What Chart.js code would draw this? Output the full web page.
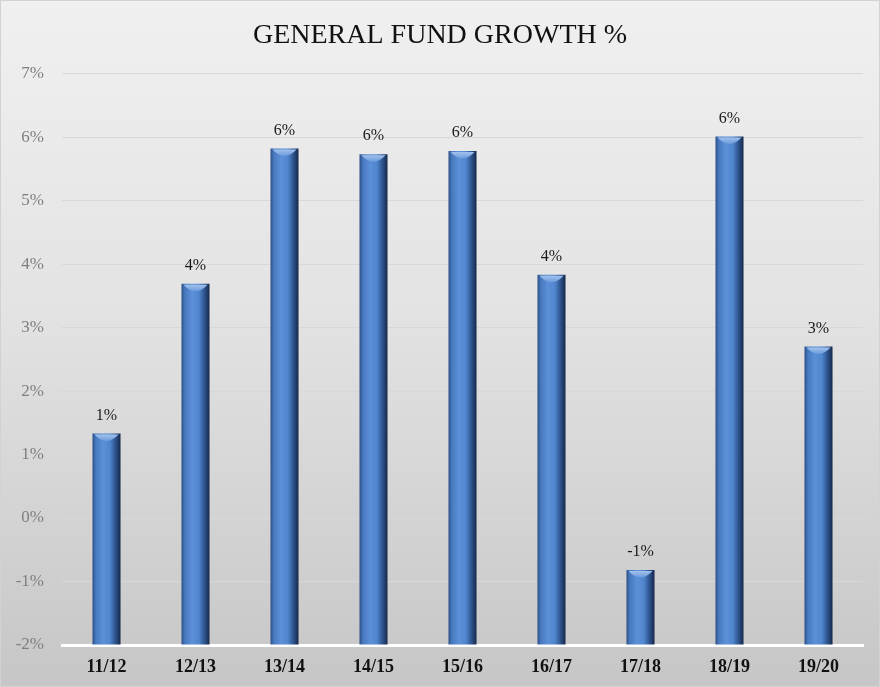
<!DOCTYPE html>
<html>
<head>
<meta charset="utf-8">
<script src="https://cdn.jsdelivr.net/npm/chart.js@4"></script>
<style>
  html, body { margin: 0; padding: 0; }
  #wrap {
    width: 880px; height: 687px; position: relative;
    background: linear-gradient(to bottom, #f0f0f0 0%, #e3e3e3 45%, #c6c6c6 100%);
  }
  #growth { position: absolute; left: 0; top: 0; }
</style>
</head>
<body>
<div id="wrap"><canvas id="growth" width="880" height="687"></canvas></div>
<script>
const years = ['11/12', '12/13', '13/14', '14/15', '15/16', '16/17', '17/18', '18/19', '19/20'];
const growth = [1.33, 3.69, 5.82, 5.73, 5.78, 3.83, -0.82, 6.01, 2.70];
const yTicks = [-2, -1, 0, 1, 2, 3, 4, 5, 6, 7];

const serif = '"Liberation Serif", "Times New Roman", serif';
const BAR_FRACTION = 0.315;

// cylinder shading across each bar
function barFill(c) {
  const chart = c.chart;
  const xs = chart.scales.x;
  if (!chart.chartArea || !xs || c.dataIndex === undefined) return '#4f81bd';
  const cx = xs.getPixelForValue(c.dataIndex);
  const w = (xs.width / years.length) * BAR_FRACTION;
  const g = chart.ctx.createLinearGradient(cx - w / 2, 0, cx + w / 2, 0);
  g.addColorStop(0, '#2c4f86');
  g.addColorStop(0.12, '#4879bf');
  g.addColorStop(0.38, '#5c90d8');
  g.addColorStop(0.62, '#5086ce');
  g.addColorStop(0.82, '#2d538d');
  g.addColorStop(1, '#16284a');
  return g;
}

// light cap on top of each bar plus the value label
const barDecor = {
  id: 'barDecor',
  afterDatasetsDraw(chart) {
    const ctx = chart.ctx;
    const meta = chart.getDatasetMeta(0);
    meta.data.forEach((bar, i) => {
      const w = bar.width;
      ctx.save();
      const g = ctx.createLinearGradient(0, bar.y, 0, bar.y + 9);
      g.addColorStop(0, '#a9c7ef');
      g.addColorStop(1, '#5f92d8');
      ctx.fillStyle = g;
      ctx.beginPath();
      ctx.moveTo(bar.x - w / 2 + 2, bar.y + 1);
      ctx.lineTo(bar.x + w / 2 - 2, bar.y + 1);
      ctx.quadraticCurveTo(bar.x, bar.y + 14, bar.x - w / 2 + 2, bar.y + 1);
      ctx.fill();
      ctx.fillStyle = '#1a1a1a';
      ctx.font = '16px ' + serif;
      ctx.textAlign = 'center';
      ctx.textBaseline = 'middle';
      ctx.fillText(Math.round(growth[i]) + '%', bar.x, bar.y - 18);
      ctx.restore();
    });
  },
  afterDraw(chart) {
    const ctx = chart.ctx;
    ctx.save();
    ctx.strokeStyle = '#d2d2d2';
    ctx.lineWidth = 1;
    ctx.strokeRect(0.5, 0.5, chart.width - 1, chart.height - 1);
    ctx.restore();
  }
};

new Chart(document.getElementById('growth'), {
  type: 'bar',
  data: {
    labels: years,
    datasets: [{
      data: growth,
      base: yTicks[0],
      backgroundColor: barFill,
      borderWidth: 0,
      barPercentage: 0.63,
      categoryPercentage: 0.5
    }]
  },
  options: {
    responsive: false,
    animation: false,
    layout: { padding: { left: 0, right: 0, top: 0, bottom: 8 } },
    plugins: {
      legend: { display: false },
      tooltip: { enabled: false },
      title: {
        display: true,
        text: 'GENERAL FUND GROWTH %',
        color: '#111',
        font: { family: serif, size: 28, weight: 'normal', lineHeight: 1.2 },
        padding: { top: 19, bottom: 21 }
      }
    },
    scales: {
      x: {
        afterFit(scale) { scale.height = 34; },
        grid: { display: false, drawTicks: false },
        border: { color: '#ffffff', width: 3 },
        ticks: { color: '#111', padding: 12, maxRotation: 0, font: { family: serif, size: 18, weight: 'bold' } }
      },
      y: {
        min: yTicks[0],
        max: yTicks[yTicks.length - 1],
        afterFit(scale) { scale.width = 62; },
        afterBuildTicks(scale) { scale.ticks = yTicks.map(v => ({ value: v })); },
        grid: { color: '#d8d8d8', lineWidth: 1, drawTicks: false },
        border: { display: false },
        ticks: {
          color: '#7f7f7f',
          padding: 18,
          font: { family: serif, size: 17 },
          callback: v => v + '%'
        }
      },
      // empty right margin beside the plot
      gap: {
        position: 'right',
        min: 0,
        max: 1,
        grid: { display: false, drawTicks: false },
        border: { display: false },
        ticks: { display: false },
        afterFit(scale) { scale.width = 17; }
      }
    }
  },
  plugins: [barDecor]
});
</script>
</body>
</html>
